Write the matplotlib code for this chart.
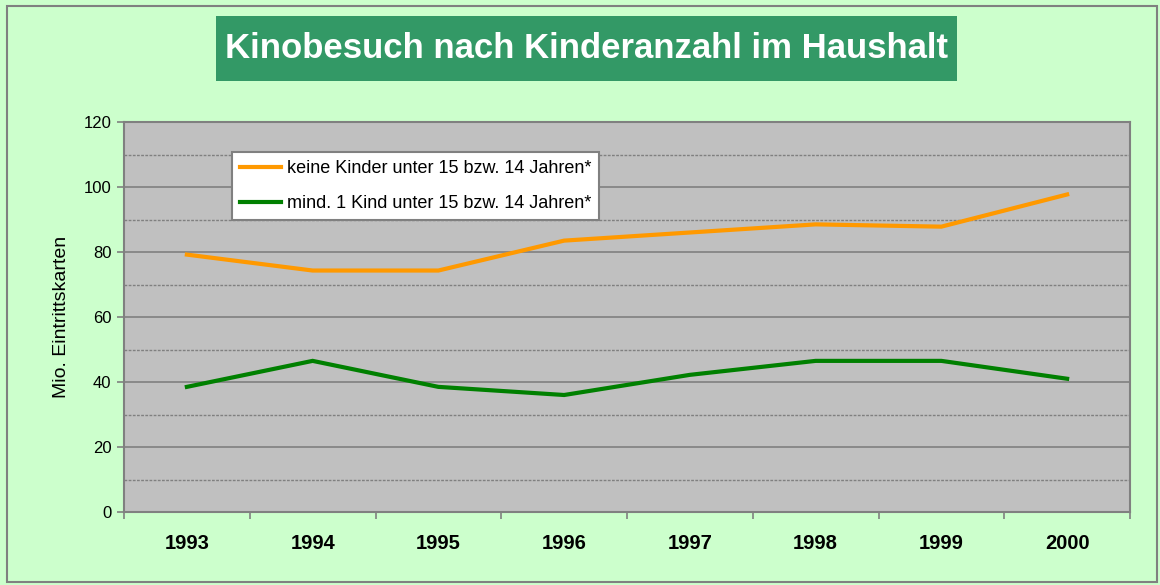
import matplotlib
matplotlib.use('Agg')
import matplotlib.pyplot as plt
from matplotlib.patches import Rectangle
from matplotlib.ticker import MultipleLocator, FixedLocator

plt.rcParams['font.family'] = ['Liberation Sans', 'DejaVu Sans']

# ---------------------------------------------------------------------------
# Data
# ---------------------------------------------------------------------------
years = ['1993', '1994', '1995', '1996', '1997', '1998', '1999', '2000']
keine_kinder = [79.2, 74.3, 74.3, 83.5, 86.0, 88.5, 87.8, 97.7]
mind_1_kind = [38.5, 46.5, 38.5, 36.0, 42.2, 46.5, 46.5, 41.0]
label_keine = 'keine Kinder unter 15 bzw. 14 Jahren*'
label_mind = 'mind. 1 Kind unter 15 bzw. 14 Jahren*'
title = 'Kinobesuch nach Kinderanzahl im Haushalt'
ylabel = 'Mio. Eintrittskarten'

BG = '#CCFFCC'
PLOT_BG = '#C0C0C0'
GRID = '#808080'

W, H = 1160, 585
fig = plt.figure(figsize=(W / 100, H / 100), dpi=100, facecolor=BG)

# outer frame
fig.patches.append(Rectangle((7 / W, 1 - 582 / H), (1157 - 7) / W, (582 - 6) / H,
                             transform=fig.transFigure, fill=False,
                             edgecolor='#808080', linewidth=1.5))

# title box
fig.patches.append(Rectangle((216 / W, 1 - 81 / H), (957 - 216) / W, (81 - 16) / H,
                             transform=fig.transFigure, facecolor='#339966',
                             edgecolor='none'))
fig.text((216 + 957) / 2 / W, 1 - 49 / H, title, color='white', fontsize=25,
         fontweight='bold', ha='center', va='center')

left, right, top, bottom = 124, 1130, 122, 512
ax = fig.add_axes([left / W, 1 - bottom / H, (right - left) / W, (bottom - top) / H])
ax.set_facecolor(PLOT_BG)

x = list(range(len(years)))
ax.plot(x, keine_kinder, color='#FF9900', linewidth=3, label=label_keine,
        solid_joinstyle='miter')
ax.plot(x, mind_1_kind, color='#008000', linewidth=3, label=label_mind,
        solid_joinstyle='miter')

ax.set_xlim(-0.5, len(years) - 0.5)
ax.set_ylim(0, 120)

# x axis: labels at centres, tick marks at boundaries
ax.set_xticks(x)
ax.set_xticklabels(years, fontsize=14.5, fontweight='bold')
ax.xaxis.set_minor_locator(FixedLocator([i - 0.5 for i in range(len(years) + 1)]))
ax.tick_params(axis='x', which='major', length=0, pad=16)
ax.tick_params(axis='x', which='minor', length=5, width=1.2, color=GRID, direction='out')

# y axis
ax.yaxis.set_major_locator(MultipleLocator(20))
ax.yaxis.set_minor_locator(MultipleLocator(10))
ax.tick_params(axis='y', which='major', length=5, width=1.2, color=GRID,
               labelsize=12, pad=4)
ax.tick_params(axis='y', which='minor', length=0)
ax.grid(axis='y', which='major', color=GRID, linewidth=1.2, linestyle='-')
ax.grid(axis='y', which='minor', color=GRID, linewidth=1.0, linestyle=(0, (2, 1)))
ax.set_axisbelow(True)

ax.set_ylabel(ylabel, fontsize=14)
ax.yaxis.set_label_coords(-0.054, 0.5)

for s in ax.spines.values():
    s.set_color(GRID)
    s.set_linewidth(1.5)

leg = ax.legend(loc='upper left', bbox_to_anchor=(0.107, 0.923), borderaxespad=0,
                fontsize=13, frameon=True, fancybox=False, framealpha=1,
                facecolor='white', edgecolor=GRID, handlelength=2.3,
                handletextpad=0.3, labelspacing=1.0, borderpad=0.45)
leg.get_frame().set_linewidth(1.5)

fig.savefig('out.png', dpi=100, facecolor=BG)
